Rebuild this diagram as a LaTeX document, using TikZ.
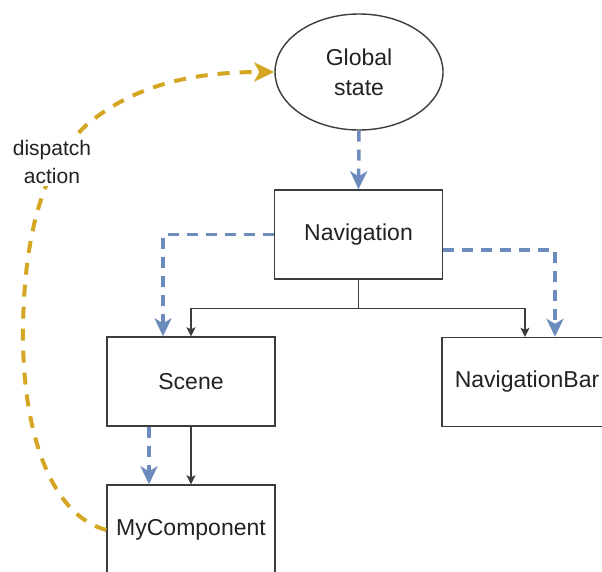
\documentclass[tikz,border=0pt]{standalone}
\usepackage{fontspec}
\setmainfont{Liberation Sans}
\usetikzlibrary{arrows.meta,shapes.geometric}
\definecolor{flowblue}{RGB}{108,140,190}
\definecolor{dispyellow}{RGB}{212,166,36}
\definecolor{boxline}{RGB}{60,60,60}
\definecolor{txt}{RGB}{34,34,34}
\begin{document}
\begin{tikzpicture}[x=1pt,y=-1pt,
  box/.style={draw=boxline, line width=1.4pt, minimum width=168pt, minimum height=89pt,
    inner sep=0pt, font=\fontsize{23}{30}\selectfont, text=txt},
  blueflow/.style={draw=flowblue, line width=3.5pt, dash pattern=on 11pt off 8pt,
    -{Stealth[length=18pt,width=17pt,inset=5pt]}},
  blackarrow/.style={draw=boxline, line width=1.3pt, -{Stealth[length=9pt,width=9pt,inset=2pt]}},
  yellowflow/.style={draw=dispyellow, line width=4pt, dash pattern=on 12pt off 10pt,
    -{Stealth[length=20pt,width=19pt,inset=5pt]}},
  lbl/.style={fill=white, align=center, inner sep=2pt, font=\fontsize{21}{28}\selectfont, text=txt}
]
\useasboundingbox (0,0) rectangle (602,571);
\clip (0,0) rectangle (602,571);
\fill[white] (0,0) rectangle (602,571);

\node[ellipse, draw=boxline, line width=1.4pt, minimum width=168pt, minimum height=116pt,
  inner sep=0pt, align=center, font=\fontsize{23}{30}\selectfont, text=txt] (gs) at (359,72) {Global\\state};
\node[box] (nav) at (358.5,234.5) {Navigation};
\node[box] (scene) at (191,381.5) {Scene};
\node[box, minimum width=170pt] (navbar) at (527,382) {NavigationBar};
\node[box, minimum height=90pt] (myc) at (191,530) {MyComponent};

% data flow (blue dashed)
\draw[blueflow] (gs.south) -- (nav.north);
\draw[blueflow] (nav.west) -| ([xshift=-28pt]scene.north);
\draw[blueflow] ([yshift=-15.5pt]nav.east) -| ([xshift=28pt]navbar.north);
\draw[blueflow] ([xshift=-42pt]scene.south) -- ([xshift=-42pt]myc.north);

% component tree (black)
\draw[blackarrow] (nav.south) -- ++(0,29) -| (scene.north);
\draw[blackarrow] (nav.south) -- ++(0,29) -| ([xshift=-2pt]navbar.north);
\draw[blackarrow] (scene.south) -- (myc.north);

% dispatch action (yellow dashed)
\draw[yellowflow] (myc.west) .. controls (50,515) and (22,430) .. (23,330)
  .. controls (24,230) and (45,160) .. (90,122)
  .. controls (140,82) and (200,72) .. (gs.west);
\node[lbl] (dispatch) at (52,162) {dispatch\\action};
\end{tikzpicture}
\end{document}
